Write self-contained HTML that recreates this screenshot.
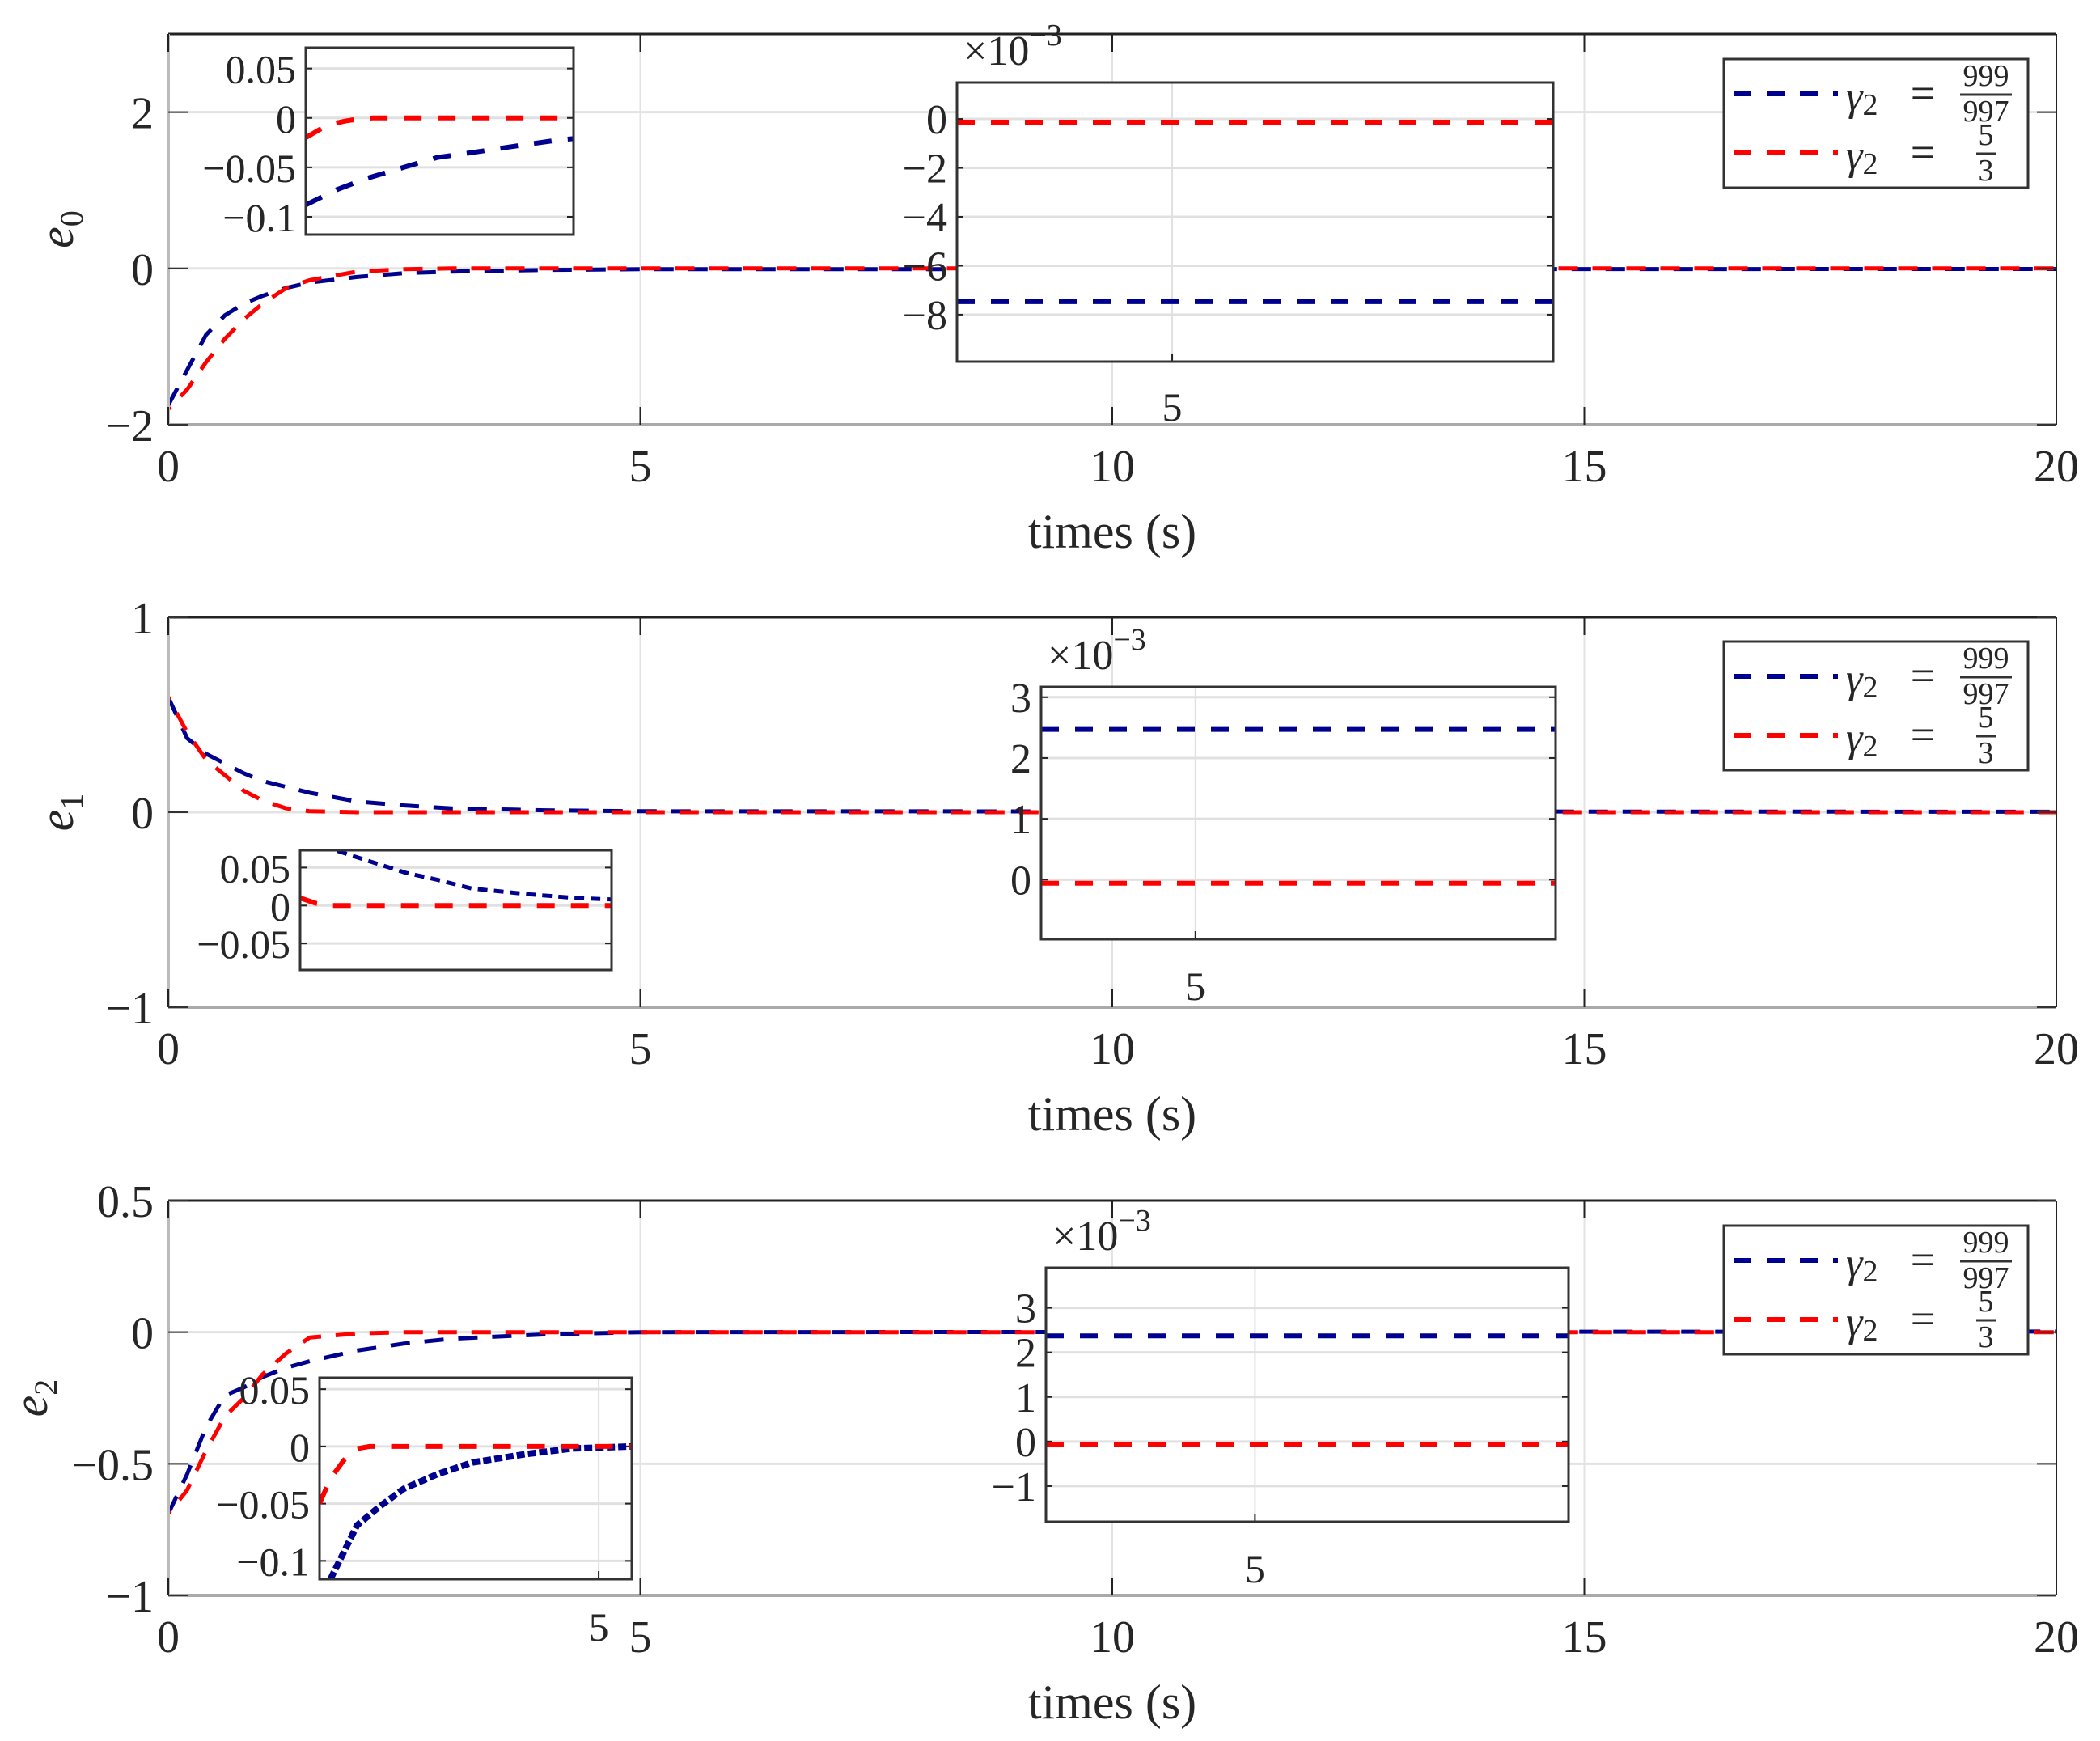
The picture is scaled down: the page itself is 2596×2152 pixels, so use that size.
<!DOCTYPE html>
<html><head><meta charset="utf-8"><style>
html,body{margin:0;padding:0;background:#fff;}
svg{display:block;}
text{font-family:"Liberation Serif",serif;fill:#262626;}
</style></head><body>
<svg id="fig" xmlns="http://www.w3.org/2000/svg" width="2596" height="2152" viewBox="0 0 2596 2152"></svg>
<script>
// ---- data ----
const mainT = [0,0.2,0.4,0.6,0.8,1,1.25,1.5,2,2.5,3,4,5,20];
const e0Blue = [-1.75,-1.3,-0.85,-0.6,-0.45,-0.35,-0.25,-0.18,-0.11,-0.06,-0.04,-0.02,-0.01,-0.0075];
const e0Red  = [-1.8,-1.55,-1.2,-0.9,-0.65,-0.45,-0.25,-0.15,-0.04,-0.01,0,0,0,0];
const e1Blue = [0.59,0.38,0.3,0.25,0.2,0.16,0.13,0.1,0.055,0.035,0.02,0.01,0.005,0.0025];
const e1Red  = [0.59,0.41,0.27,0.19,0.11,0.06,0.02,0.005,0,0,0,0,0,0];
const e2Blue = [-0.69,-0.54,-0.36,-0.24,-0.21,-0.17,-0.135,-0.11,-0.07,-0.043,-0.025,-0.008,0,0.0024];
const e2Red  = [-0.69,-0.6,-0.45,-0.32,-0.25,-0.16,-0.08,-0.02,-0.005,0,0,0,0,0];
const xTicks = [0,5,10,15,20];
const yTicks0 = [-2,0,2];
const yTicks1 = [-1,0,1];
const yTicks2 = [-1,-0.5,0,0.5];
const yTickLabels2 = ["\u22121","\u22120.5","0","0.5"];
const inA0BlueX = [0,0.116,0.23,0.37,0.49,0.62,0.77,0.95,1];
const inA0Blue  = [-0.088,-0.0725,-0.061,-0.0496,-0.04,-0.035,-0.029,-0.022,-0.021];
const inA0RedX  = [0,0.05,0.1,0.15,0.2,0.25,1];
const inA0Red   = [-0.02,-0.012,-0.006,-0.003,-0.001,0,0];
const inA1BlueX = [0.12,0.21,0.34,0.44,0.55,0.73,0.88,1];
const inA1Blue  = [0.072,0.06,0.043,0.034,0.0225,0.015,0.01,0.008];
const inA1RedX  = [0,0.05,0.1,1];
const inA1Red   = [0.01,0.003,0,0];
const inA2BlueX = [0.035,0.12,0.19,0.27,0.38,0.49,0.66,0.81,1];
const inA2Blue  = [-0.116,-0.069,-0.053,-0.037,-0.024,-0.014,-0.0067,-0.0018,0];
const inA2RedX  = [0,0.035,0.078,0.12,0.16,1];
const inA2Red   = [-0.05,-0.028,-0.012,-0.002,0,0];
const inATicks0 = [-0.1,-0.05,0,0.05];
const inATicks1 = [-0.05,0,0.05];
const inATicks2 = [-0.1,-0.05,0,0.05];
const inB0Blue = [-7.47], inB0Red = [-0.13];
const inB1Blue = [2.47],  inB1Red = [-0.06];
const inB2Blue = [2.37],  inB2Red = [-0.06];
const inBTicks0 = [-8,-6,-4,-2,0];
const inBTicks1 = [0,1,2,3];
const inBTicks2 = [-1,0,1,2,3];

const NS="http://www.w3.org/2000/svg";
const svg=document.getElementById('fig');
function mk(tag,attrs,parent){const e=document.createElementNS(NS,tag);for(const k in attrs)e.setAttribute(k,attrs[k]);(parent||svg).appendChild(e);return e;}
function txt(str,x,y,size,anchor,parent,extra){const t=mk('text',Object.assign({x:x,y:y,'font-size':size,'text-anchor':anchor||'middle'},extra||{}),parent);t.textContent=str;return t;}
function fmt(v){return v<0?'\u2212'+String(-v):String(v);}
const BLUE='#00008f', RED='#ff0000';
let clipId=0;
function pathD(xs,ys,fx,fy){return xs.map((x,i)=>(i?'L':'M')+fx(x).toFixed(1)+','+fy(ys[i]).toFixed(1)).join('');}

function mainPanel(p){
  const g=mk('g',{});
  
  
  const L=208,R=2542;
  const fx=t=>L+t/20*(R-L);
  const fy=v=>p.top+(p.ymax-v)/(p.ymax-p.ymin)*(p.bot-p.top);
  xTicks.forEach(t=>{ if(t>0&&t<20){const l=mk('line',{x1:fx(t),x2:fx(t),y1:p.top,y2:p.bot,stroke:'#e3e3e3','stroke-width':2},g);}});
  p.yt.forEach(v=>{const l=mk('line',{x1:L,x2:R,y1:fy(v),y2:fy(v),stroke:'#e3e3e3','stroke-width':3},g);});
  const id='c'+(clipId++);
  const cp=mk('clipPath',{id:id},g);mk('rect',{x:L,y:p.top,width:R-L,height:p.bot-p.top},cp);
  const sb=mk('path',{d:pathD(mainT,p.blue,fx,fy),fill:'none',stroke:BLUE,'stroke-width':5,'stroke-dasharray':'24 18','stroke-linejoin':'round','clip-path':'url(#'+id+')'},g);
  
  const sr=mk('path',{d:pathD(mainT,p.red,fx,fy),fill:'none',stroke:RED,'stroke-width':5,'stroke-dasharray':'24 18','stroke-dashoffset':20,'stroke-linejoin':'round','clip-path':'url(#'+id+')'},g);
  
  mk('line',{x1:L,x2:R,y1:p.top,y2:p.top,stroke:'#222','stroke-width':3},g);
  mk('line',{x1:R,x2:R,y1:p.top,y2:p.bot,stroke:'#222','stroke-width':2},g);
  mk('line',{x1:L,x2:R,y1:p.bot,y2:p.bot,stroke:'#aaa','stroke-width':4},g);
  mk('line',{x1:L,x2:L,y1:p.top,y2:p.bot,stroke:'#bbb','stroke-width':4},g);
  xTicks.forEach(t=>{
    mk('line',{x1:fx(t),x2:fx(t),y1:p.bot,y2:p.bot-22,stroke:'#222','stroke-width':2},g);
    mk('line',{x1:fx(t),x2:fx(t),y1:p.top,y2:p.top+22,stroke:'#222','stroke-width':2},g);
    const tl=txt(String(t),fx(t),p.bot+70,56,'middle',g);
    
  });
  p.yt.forEach((v,i)=>{
    mk('line',{x1:L,x2:L+24,y1:fy(v),y2:fy(v),stroke:'#333','stroke-width':2},g);
    mk('line',{x1:R,x2:R-24,y1:fy(v),y2:fy(v),stroke:'#333','stroke-width':2},g);
    const tl=txt(p.ytl?p.ytl[i]:fmt(v),L-18,fy(v)+20,56,'end',g);
    
  });
  const xl=txt('times (s)',1375,p.bot+152,60,'middle',g);
  
  const yl=mk('text',{x:0,y:0,'font-size':60,'text-anchor':'middle','font-style':'italic',transform:'translate('+(p.ylx)+','+((p.top+p.bot)/2)+') rotate(-90)'},g);
  yl.textContent='e';const sub=mk('tspan',{'font-size':40,dy:12,'font-style':'normal'},yl);sub.textContent=p.sub;
  
  return g;
}

function inset(o){
  const g=mk('g',{});
  
  
  const fx=f=>o.x0+f*(o.x1-o.x0);
  const fy=v=>o.y0+(o.ymax-v)/(o.ymax-o.ymin)*(o.y1-o.y0);
  mk('rect',{x:o.x0,y:o.y0,width:o.x1-o.x0,height:o.y1-o.y0,fill:'#fff'},g);
  o.ticks.forEach(v=>{mk('line',{x1:o.x0,x2:o.x1,y1:fy(v),y2:fy(v),stroke:'#e0e0e0','stroke-width':3},g);
    mk('line',{x1:o.x0,x2:o.x0+8,y1:fy(v),y2:fy(v),stroke:'#222','stroke-width':2},g);
    mk('line',{x1:o.x1,x2:o.x1-8,y1:fy(v),y2:fy(v),stroke:'#222','stroke-width':2},g);
    const tl=txt(fmt(v),o.x0-12,fy(v)+18,o.fs||50,'end',g);
    
  });
  if(o.vx!==undefined){
    mk('line',{x1:fx(o.vx),x2:fx(o.vx),y1:o.y0,y2:o.y1,stroke:'#e0e0e0','stroke-width':2},g);
    mk('line',{x1:fx(o.vx),x2:fx(o.vx),y1:o.y1,y2:o.y1-10,stroke:'#222','stroke-width':2},g);
    const tl=txt('5',fx(o.vx),o.vly,50,'middle',g);
    
  }
  const id='c'+(clipId++);
  const cp=mk('clipPath',{id:id},g);mk('rect',{x:o.x0,y:o.y0,width:o.x1-o.x0,height:o.y1-o.y0},cp);
  const bxs=o.bx||[0,1], rxs=o.rx||[0,1];
  const bv=o.bx?o.blue:[o.blue[0],o.blue[0]], rv=o.rx?o.red:[o.red[0],o.red[0]];
  const sb=mk('path',{d:pathD(bxs,bv,fx,fy),fill:'none',stroke:BLUE,'stroke-width':o.bw||6,'stroke-dasharray':o.bd||'22 20','clip-path':'url(#'+id+')'},g);
  
  const sr=mk('path',{d:pathD(rxs,rv,fx,fy),fill:'none',stroke:RED,'stroke-width':6,'stroke-dasharray':'22 20','clip-path':'url(#'+id+')'},g);
  
  mk('rect',{x:o.x0,y:o.y0,width:o.x1-o.x0,height:o.y1-o.y0,fill:'none',stroke:'#333','stroke-width':3},g);
  if(o.exp){
    const t=mk('text',{x:o.x0+8,y:o.y0-22,'font-size':52,'text-anchor':'start'},g);
    t.textContent='\u00d710';const s=mk('tspan',{'font-size':38,dy:-24},t);s.textContent='\u22123';
    
  }
  return g;
}

function legend(y0){
  const g=mk('g',{});
  
  
  mk('rect',{x:2131,y:y0,width:376,height:159,fill:'#fff',stroke:'#333','stroke-width':3},g);
  const rows=[{c:BLUE,n:'999',d:'997',dy:43},{c:RED,n:'5',d:'3',dy:116}];
  rows.forEach(r=>{
    const e=mk('g',{},g);
    
    
    const ly=y0+r.dy;
    mk('line',{x1:2143,x2:2272,y1:ly,y2:ly,stroke:r.c,'stroke-width':6,'stroke-dasharray':'22 19'},e);
    const t=mk('text',{x:2282,y:ly+20,'font-size':52,'font-style':'italic'},e);t.textContent='\u03b3';
    const s=mk('tspan',{'font-size':38,'font-style':'normal',dy:6},t);s.textContent='2';
    txt('=',2377,ly+17,54,'middle',e);
    txt(r.n,2455,ly-10,38,'middle',e);
    mk('line',{x1:r.n.length>1?2423:2443,x2:r.n.length>1?2487:2467,y1:ly+1,y2:ly+1,stroke:'#333','stroke-width':3},e);
    txt(r.d,2455,ly+34,38,'middle',e);
  });
}

mainPanel({name:'panel-e0',top:42,bot:525,ymin:-2,ymax:3,yt:yTicks0,blue:e0Blue,red:e0Red,ylx:90,sub:'0'});
mainPanel({name:'panel-e1',top:763,bot:1245,ymin:-1,ymax:1,yt:yTicks1,blue:e1Blue,red:e1Red,ylx:90,sub:'1'});
mainPanel({name:'panel-e2',top:1484,bot:1972,ymin:-1,ymax:0.5,yt:yTicks2,ytl:yTickLabels2,blue:e2Blue,red:e2Red,ylx:58,sub:'2'});

inset({name:'inset-e0-transient',x0:378,x1:709,y0:59,y1:290,ymin:-0.118,ymax:0.071,ticks:inATicks0,bx:inA0BlueX,blue:inA0Blue,rx:inA0RedX,red:inA0Red});
inset({name:'inset-e0-steady',x0:1183,x1:1920,y0:102,y1:447,ymin:-9.92,ymax:1.49,ticks:inBTicks0,blue:inB0Blue,red:inB0Red,vx:0.361,vly:520,exp:true,fs:52});
inset({name:'inset-e1-transient',x0:371,x1:756,y0:1051,y1:1199,ymin:-0.085,ymax:0.0728,ticks:inATicks1,bx:inA1BlueX,blue:inA1Blue,rx:inA1RedX,red:inA1Red,bw:5,bd:'12 8'});
inset({name:'inset-e1-steady',x0:1287,x1:1923,y0:849,y1:1161,ymin:-0.98,ymax:3.17,ticks:inBTicks1,blue:inB1Blue,red:inB1Red,vx:0.30,vly:1236,exp:true,fs:52});
inset({name:'inset-e2-transient',x0:395,x1:781,y0:1703,y1:1952,ymin:-0.116,ymax:0.06,ticks:inATicks2,bx:inA2BlueX,blue:inA2Blue,rx:inA2RedX,red:inA2Red,vx:0.894,vly:2028,bw:8,bd:'10 4'});
inset({name:'inset-e2-steady',x0:1293,x1:1939,y0:1567,y1:1881,ymin:-1.8,ymax:3.9,ticks:inBTicks2,blue:inB2Blue,red:inB2Red,vx:0.40,vly:1956,exp:true,fs:52});

legend(73);
legend(793);
legend(1515);
</script>
</body></html>
